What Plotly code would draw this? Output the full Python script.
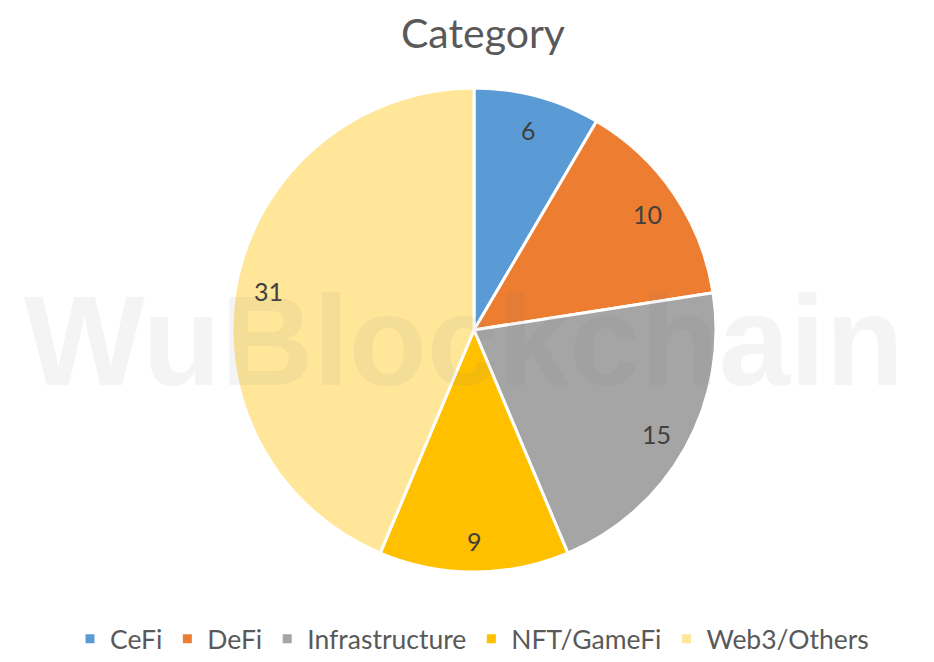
import math
import plotly.graph_objects as go

categories = ["CeFi", "DeFi", "Infrastructure", "NFT/GameFi", "Web3/Others"]
values = [6, 10, 15, 9, 31]
colors = ["#5B9BD5", "#ED7D31", "#A5A5A5", "#FFC000", "#FFE699"]

W, H = 934, 662
OFF = 8  # page body margin
cx, cy, R = 474 - OFF, 330 - OFF, 242

fig = go.Figure(go.Pie(
    labels=categories,
    values=values,
    sort=False,
    direction="clockwise",
    rotation=0,
    marker=dict(colors=colors, line=dict(color="white", width=3)),
    textinfo="none",
    domain=dict(x=[(cx - R) / W, (cx + R) / W], y=[(H - cy - R) / H, (H - cy + R) / H]),
    hoverinfo="label+value",
))

# data labels placed at the middle angle of each slice
total = sum(values)
annotations = []
cum = 0
for v in values:
    theta = 2 * math.pi * (cum + v / 2) / total
    cum += v
    r = 0.865 * R
    px = cx + r * math.sin(theta)
    py = cy - r * math.cos(theta) + 2
    annotations.append(dict(text=str(v), x=px / W, y=(H - py) / H, xref="paper", yref="paper",
                            showarrow=False, xanchor="center", yanchor="middle",
                            font=dict(family="Lato, sans-serif", size=25, color="#404040")))

annotations.append(dict(text="<b>WuBlockchain</b>", x=(464 - OFF) / W, y=(H - (340 - OFF)) / H,
                        xref="paper", yref="paper",
                        showarrow=False, xanchor="center", yanchor="middle",
                        font=dict(family="Liberation Sans, Arial, sans-serif", size=128,
                                  color="rgba(120,120,120,0.08)")))

fig.update_layout(
    width=W, height=H,
    margin=dict(l=0, r=0, t=0, b=0),
    paper_bgcolor="white",
    title=dict(text="Category", x=(483 - OFF) / W, xanchor="center", y=1 - (34 - OFF) / H, yanchor="middle",
               font=dict(family="Lato, sans-serif", size=41, color="#595959")),
    legend=dict(orientation="h", x=(472 - OFF) / W, xanchor="center", y=(H - (639 - OFF)) / H, yanchor="middle",
                font=dict(family="Lato, sans-serif", size=26.5, color="#595959"),
                itemwidth=30, traceorder="normal"),
    annotations=annotations,
)

fig.write_html("out.html")
